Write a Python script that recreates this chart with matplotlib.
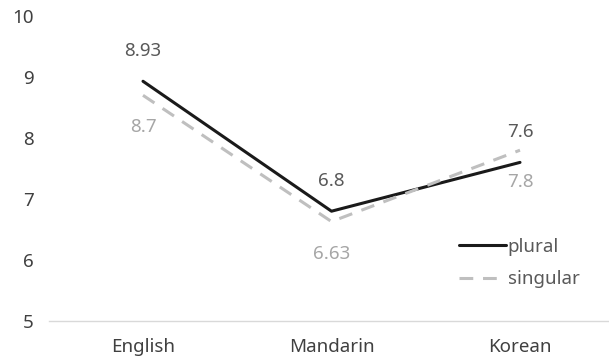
import matplotlib
matplotlib.use("Agg")
import matplotlib.pyplot as plt

# values
languages = ["English", "Mandarin", "Korean"]
plural = [8.93, 6.8, 7.6]
singular = [8.7, 6.63, 7.8]
plural_labels = ["8.93", "6.8", "7.6"]
singular_labels = ["8.7", "6.63", "7.8"]
y_ticks = [5, 6, 7, 8, 9, 10]

plt.rcParams['font.family'] = ['Noto Sans', 'DejaVu Sans']
fs = 13.5

fig = plt.figure(figsize=(6.09, 3.64), dpi=100)
ax = fig.add_axes([48.75 / 609, 1 - 321 / 364, 1 - 48.75 / 609, 305 / 364])

x = list(range(len(languages)))
ax.plot(x, plural, color='#1a1a1a', lw=2.2, solid_capstyle='round', label='plural')
ax.plot(x, singular, color='#bfbfbf', lw=2.2, dashes=(4.5, 3.2), label='singular')

# data labels, plural above, singular below
for xi, v, t in zip(x, plural, plural_labels):
    ax.annotate(t, (xi, v), xytext=(0, 30), textcoords='offset pixels',
                ha='center', va='center', fontsize=fs, color='#595959')
for xi, v, t in zip(x, singular, singular_labels):
    ax.annotate(t, (xi, v), xytext=(0, -32), textcoords='offset pixels',
                ha='center', va='center', fontsize=fs, color='#a6a6a6')

ax.set_xlim(-0.5, (609 - 48.75) / 188.5 - 0.5)
ax.set_ylim(5, 10)
ax.set_xticks(x)
ax.set_xticklabels(languages, fontsize=fs, color='#404040')
ax.set_yticks(y_ticks)
ax.set_yticklabels([str(t) for t in y_ticks], fontsize=fs, color='#404040')
ax.tick_params(length=0)
ax.tick_params(axis='x', pad=12)
ax.tick_params(axis='y', pad=11)
for s in ax.spines.values():
    s.set_visible(False)
ax.axhline(5, color='#d9d9d9', lw=1, clip_on=False)

ax.legend(loc='upper left', bbox_to_anchor=(459 / 609, 1 - 238 / 364),
          bbox_transform=fig.transFigure, frameon=False, fontsize=fs,
          handlelength=2.5, handletextpad=0.1, borderpad=0, borderaxespad=0,
          labelspacing=0.75, labelcolor='#595959')

fig.savefig("out.png", dpi=100)
